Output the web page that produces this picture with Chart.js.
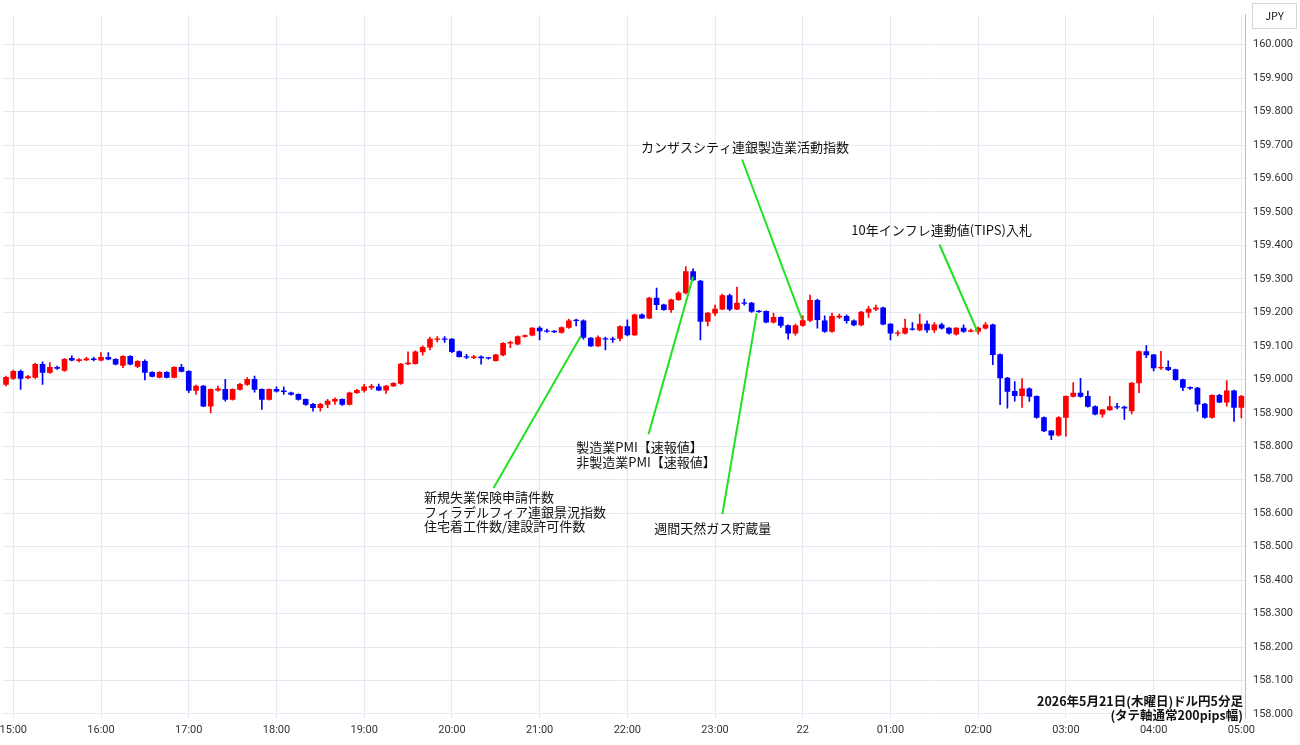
<!DOCTYPE html>
<html>
<head>
<meta charset="utf-8">
<script src="https://cdn.jsdelivr.net/npm/chart.js@4.4.1/dist/chart.umd.min.js"></script>
<style>
  html, body { margin: 0; padding: 0; background: #fff; }
  #wrap { width: 1300px; height: 745px; position: relative; }
</style>
</head>
<body>
<div id="wrap"><canvas id="c"></canvas></div>
<script>
// USD/JPY 5-minute candles, 14:55 -> 05:00
const opens = [158.985,159.003,159.024,159.004,159.006,159.045,159.021,159.036,159.027,159.063,159.056,159.058,159.061,159.057,159.066,159.060,159.042,159.069,159.039,159.054,
159.021,159.006,159.021,159.006,159.036,159.024,158.967,158.980,158.920,158.968,158.970,158.940,158.970,158.985,159.000,158.970,158.940,158.970,158.966,158.960,
158.955,158.940,158.925,158.915,158.925,158.935,158.940,158.925,158.960,158.967,158.976,158.978,158.968,158.980,158.988,159.046,159.047,159.082,159.096,159.119,
159.121,159.120,159.083,159.068,159.065,159.067,159.064,159.056,159.073,159.108,159.105,159.128,159.132,159.153,159.145,159.143,159.140,159.155,159.176,159.175,
159.123,159.100,159.122,159.120,159.122,159.158,159.133,159.193,159.183,159.243,159.223,159.208,159.238,159.258,159.322,159.294,159.173,159.198,159.210,159.250,
159.210,159.229,159.228,159.203,159.203,159.171,159.185,159.161,159.138,159.161,159.176,159.236,159.175,159.143,159.186,159.188,159.175,159.163,159.200,159.210,
159.214,159.165,159.138,159.138,159.150,159.148,159.165,159.148,159.163,159.153,159.135,159.153,159.143,159.143,159.153,159.163,159.074,159.004,158.964,158.951,
158.972,158.949,158.886,158.846,158.833,158.886,158.949,158.959,158.949,158.919,158.896,158.909,158.919,158.917,158.906,158.989,159.083,159.073,159.034,159.036,
159.029,158.999,158.976,158.974,158.926,158.886,158.952,158.932,158.966,158.916];
const highs = [159.010,159.028,159.028,159.012,159.048,159.052,159.050,159.040,159.063,159.070,159.062,159.066,159.066,159.080,159.080,159.062,159.071,159.071,159.056,159.058,
159.023,159.023,159.023,159.038,159.045,159.026,158.983,158.982,158.972,158.980,159.000,158.972,158.988,159.005,159.010,158.972,158.972,158.978,158.978,158.962,
158.957,158.942,158.928,158.928,158.940,158.945,158.942,158.962,158.970,158.985,158.985,158.986,158.982,158.990,159.048,159.082,159.085,159.100,159.126,159.128,
159.128,159.122,159.085,159.075,159.072,159.070,159.066,159.075,159.110,159.114,159.130,159.133,159.155,159.158,159.150,159.146,159.157,159.180,159.180,159.178,
159.125,159.130,159.126,159.126,159.160,159.178,159.195,159.196,159.245,159.273,159.225,159.240,159.262,159.337,159.330,159.296,159.200,159.222,159.255,159.255,
159.276,159.240,159.230,159.206,159.205,159.198,159.187,159.163,159.165,159.190,159.252,159.240,159.190,159.198,159.195,159.193,159.178,159.203,159.218,159.222,
159.216,159.167,159.145,159.180,159.170,159.195,159.175,159.170,159.168,159.155,159.155,159.163,159.150,159.156,159.170,159.165,159.076,159.006,158.993,159.002,
158.975,158.951,158.888,158.848,158.889,158.951,158.990,159.003,158.965,158.921,158.910,158.949,158.928,158.920,158.991,159.085,159.101,159.075,159.084,159.055,
159.031,159.001,158.978,158.976,158.928,158.954,158.955,158.996,158.968,158.952];
const lows = [158.980,159.000,158.970,159.002,159.003,158.985,159.018,159.030,159.024,159.055,159.052,159.056,159.055,159.055,159.058,159.043,159.035,159.043,159.035,158.998,
159.007,159.004,159.004,159.004,159.022,158.960,158.955,158.918,158.900,158.965,158.935,158.938,158.968,158.982,158.962,158.910,158.938,158.962,158.955,158.953,
158.938,158.922,158.905,158.905,158.915,158.925,158.922,158.923,158.958,158.962,158.970,158.966,158.958,158.978,158.985,159.044,159.045,159.072,159.088,159.112,
159.110,159.080,159.066,159.062,159.062,159.045,159.060,159.054,159.070,159.095,159.103,159.126,159.130,159.118,159.140,159.140,159.138,159.152,159.160,159.120,
159.098,159.098,159.088,159.110,159.115,159.130,159.131,159.182,159.181,159.208,159.206,159.200,159.236,159.255,159.295,159.118,159.160,159.190,159.208,159.205,
159.208,159.222,159.200,159.200,159.169,159.168,159.155,159.120,159.132,159.158,159.172,159.153,159.140,159.140,159.182,159.168,159.160,159.160,159.185,159.205,
159.163,159.118,159.130,159.135,159.147,159.145,159.140,159.140,159.150,159.135,159.132,159.140,159.142,159.135,159.150,159.044,158.924,158.914,158.935,158.916,
158.934,158.884,158.844,158.820,158.830,158.830,158.947,158.947,158.917,158.894,158.887,158.907,158.912,158.880,158.897,158.960,159.065,159.025,159.030,159.026,
158.997,158.966,158.970,158.905,158.884,158.884,158.930,158.920,158.874,158.885];
const closes = [159.006,159.024,159.003,159.008,159.045,159.021,159.036,159.033,159.060,159.057,159.059,159.061,159.059,159.066,159.060,159.045,159.069,159.045,159.054,159.021,
159.009,159.021,159.006,159.036,159.024,158.967,158.980,158.920,158.970,158.972,158.940,158.970,158.985,159.000,158.970,158.940,158.970,158.965,158.963,158.955,
158.940,158.925,158.915,158.925,158.935,158.940,158.925,158.960,158.967,158.978,158.979,158.968,158.980,158.988,159.046,159.049,159.082,159.096,159.120,159.121,
159.119,159.083,159.068,159.066,159.067,159.064,159.062,159.073,159.108,159.111,159.128,159.131,159.153,159.145,159.143,159.142,159.155,159.175,159.174,159.125,
159.100,159.125,159.120,159.119,159.158,159.133,159.193,159.183,159.243,159.223,159.208,159.238,159.258,159.322,159.297,159.173,159.198,159.210,159.250,159.210,
159.228,159.227,159.203,159.202,159.171,159.185,159.161,159.138,159.161,159.176,159.236,159.178,159.143,159.188,159.189,159.175,159.163,159.201,159.210,159.214,
159.165,159.138,159.140,159.153,159.149,159.165,159.148,159.163,159.153,159.138,159.153,159.143,159.146,159.153,159.163,159.074,159.004,158.964,158.951,158.972,
158.949,158.886,158.846,158.833,158.886,158.949,158.959,158.949,158.919,158.896,158.909,158.919,158.917,158.914,158.989,159.083,159.073,159.034,159.036,159.029,
158.999,158.976,158.974,158.926,158.886,158.952,158.932,158.966,158.916,158.949];

// hourly x tick labels, one per 12 candles starting at the 15:00 candle
const hourLabels = ['15:00','16:00','17:00','18:00','19:00','20:00','21:00','22:00','23:00','22','01:00','02:00','03:00','04:00','05:00'];
const priceTicks = [158.0,158.1,158.2,158.3,158.4,158.5,158.6,158.7,158.8,158.9,159.0,159.1,159.2,159.3,159.4,159.5,159.6,159.7,159.8,159.9,160.0];

// event notes: text anchor [candleIndex, price], line from -> to
const notes = [
  { lines: ['新規失業保険申請件数','フィラデルフィア連銀景況指数','住宅着工件数/建設許可件数'], at: [57.2, 158.648], align: 'left', from: [66.7, 158.675], to: [78.6, 159.128] },
  { lines: ['製造業PMI【速報値】','非製造業PMI【速報値】'], at: [78.0, 158.797], align: 'left', from: [87.9, 158.836], to: [94.0, 159.307] },
  { lines: ['週間天然ガス貯蔵量'], at: [96.7, 158.555], align: 'center', from: [98.0, 158.597], to: [102.7, 159.197] },
  { lines: ['カンザスシティ連銀製造業活動指数'], at: [101.1, 159.693], align: 'center', from: [100.7, 159.657], to: [108.9, 159.179] },
  { lines: ['10年インフレ連動値(TIPS)入札'], at: [128.0, 159.445], align: 'center', from: [127.7, 159.403], to: [132.9, 159.143] }
];

const labels = opens.map((_, i) => String(i));
const colors = opens.map((o, i) => closes[i] >= o ? '#ff0000' : '#0000ff');
const JP = '"Noto Sans CJK JP", "Noto Sans", sans-serif';

const notesPlugin = {
  id: 'notes',
  afterDatasetsDraw(chart) {
    const { ctx, scales: { x, y } } = chart;
    ctx.save();
    ctx.strokeStyle = '#22e022';
    ctx.lineWidth = 2;
    notes.forEach(n => {
      ctx.beginPath();
      ctx.moveTo(x.getPixelForValue(n.from[0]), y.getPixelForValue(n.from[1]));
      ctx.lineTo(x.getPixelForValue(n.to[0]), y.getPixelForValue(n.to[1]));
      ctx.stroke();
    });
    ctx.fillStyle = '#111';
    ctx.font = '13px ' + JP;
    ctx.textBaseline = 'middle';
    notes.forEach(n => {
      ctx.textAlign = n.align;
      const px = x.getPixelForValue(n.at[0]);
      const py = y.getPixelForValue(n.at[1]);
      n.lines.forEach((t, k) => ctx.fillText(t, px, py + k * 14.5));
    });
    // caption bottom right
    ctx.textAlign = 'right';
    ctx.font = 'bold 12.5px ' + JP;
    ctx.fillText('2026年5月21日(木曜日)ドル円5分足', x.right - 2, y.getPixelForValue(158.039));
    ctx.fillText('(タテ軸通常200pips幅)', x.right - 2, y.getPixelForValue(157.997));
    // JPY box
    ctx.strokeStyle = '#d8d8d8';
    ctx.lineWidth = 1;
    ctx.strokeRect(x.right + 7.5, 3.5, 44, 25);
    ctx.fillStyle = '#222';
    ctx.font = '11px ' + JP;
    ctx.textAlign = 'center';
    ctx.fillText('JPY', x.right + 29.5, 16);
    ctx.restore();
  }
};

new Chart(document.getElementById('c'), {
  type: 'bar',
  data: {
    labels: labels,
    datasets: [
      {
        label: 'wick',
        data: lows.map((l, i) => [l, highs[i]]),
        backgroundColor: colors,
        barThickness: 1,
        grouped: false,
        order: 2
      },
      {
        label: 'body',
        data: opens.map((o, i) => Math.abs(closes[i] - o) < 0.002 ? [o - 0.001, o + 0.001] : [o, closes[i]]),
        backgroundColor: colors,
        barThickness: 5,
        grouped: false,
        order: 1
      }
    ]
  },
  options: {
    responsive: true,
    maintainAspectRatio: false,
    animation: false,
    layout: { padding: { left: -4, right: 0, top: 0, bottom: 0 } },
    plugins: { legend: { display: false }, tooltip: { enabled: false } },
    scales: {
      x: {
        offset: true,
        grid: {
          offset: false,
          color: (c) => (c.index % 12 === 1 ? '#e3eaf3' : 'rgba(0,0,0,0)'),
          drawTicks: false
        },
        border: { display: false },
        ticks: {
          autoSkip: false,
          maxRotation: 0,
          padding: 6,
          color: '#333',
          font: { size: 11, family: 'Roboto, sans-serif' },
          callback: (v, i) => (i % 12 === 1 ? hourLabels[(i - 1) / 12] : '')
        },
        afterFit: (s) => { s.height = 27; }
      },
      y: {
        position: 'right',
        min: 157.988,
        max: 160.090,
        afterBuildTicks: (s) => { s.ticks = priceTicks.map(v => ({ value: v })); },
        afterFit: (s) => { s.width = 55; },
        grid: { color: '#e3eaf3', drawTicks: false },
        border: { display: true, color: '#bdbdbd' },
        ticks: {
          padding: 8,
          color: '#333',
          font: { size: 11, family: 'Roboto, sans-serif' },
          callback: (v) => v.toFixed(3)
        }
      }
    }
  },
  plugins: [notesPlugin]
});
</script>
</body>
</html>
